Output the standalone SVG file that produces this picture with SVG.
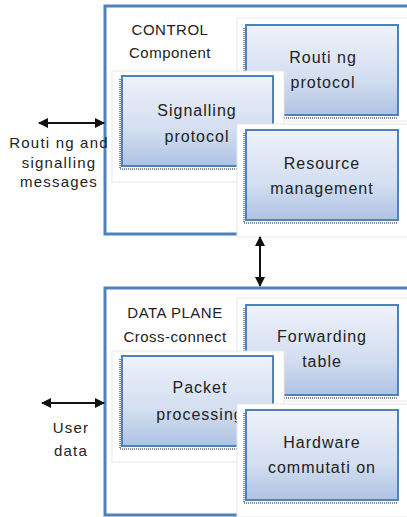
<svg xmlns="http://www.w3.org/2000/svg" width="407" height="517" viewBox="0 0 407 517">
<defs>
<linearGradient id="g" x1="0" y1="0" x2="0" y2="1">
<stop offset="0" stop-color="#eef2fa"/>
<stop offset="0.6" stop-color="#d3def0"/>
<stop offset="1" stop-color="#aec3e3"/>
</linearGradient>
<marker id="ah" viewBox="0 0 10 10" refX="9" refY="5" markerWidth="5" markerHeight="5" orient="auto-start-reverse" markerUnits="strokeWidth">
<path d="M0,0 L10,5 L0,10 z" fill="#111"/>
</marker>
<style>
.outer{fill:#fff;stroke:#4f81bd;stroke-width:3}
.panel{fill:#fff;stroke:#e8e8e8;stroke-width:1}
.box{fill:url(#g);stroke:#4f81bd;stroke-width:2}
.sh{stroke:#888;stroke-width:2;stroke-dasharray:1 1;fill:none}
.t{font-family:"Liberation Sans",Arial,sans-serif;font-size:16px;letter-spacing:1px;fill:#222;text-anchor:middle}
.h{font-family:"Liberation Sans",Arial,sans-serif;font-size:15px;letter-spacing:0.5px;fill:#222;text-anchor:middle}
.l{font-family:"Liberation Sans",Arial,sans-serif;font-size:15px;letter-spacing:1.2px;fill:#222;text-anchor:middle}
.c{stroke:#111;stroke-width:2;fill:none;marker-start:url(#ah);marker-end:url(#ah)}
</style>
</defs>
<rect width="407" height="517" fill="#fff"/>
<g id="control">
<rect class="outer" x="105" y="6" width="310" height="228"/>
<text class="h" x="170" y="35">CONTROL</text>
<text class="h" x="170" y="58">Component</text>
</g>
<g id="routing">
<rect class="panel" x="237" y="18" width="175" height="103"/>
<path class="sh" d="M244,28 V118 H398"/>
<rect class="box" x="246" y="25" width="152" height="90"/>
<text class="t" x="323" y="63">Routi ng</text>
<text class="t" x="323" y="88">protocol</text>
</g>
<g id="signalling">
<rect class="panel" x="112" y="71" width="172" height="111"/>
<path class="sh" d="M120,79 V169 H273"/>
<rect class="box" x="122" y="76" width="151" height="90"/>
<text class="t" x="197" y="116">Signalling</text>
<text class="t" x="197" y="142">protocol</text>
</g>
<g id="resource">
<rect class="panel" x="237" y="124" width="175" height="113"/>
<path class="sh" d="M244,133 V223 H398"/>
<rect class="box" x="246" y="130" width="152" height="90"/>
<text class="t" x="322" y="169">Resource</text>
<text class="t" x="322" y="194">management</text>
</g>
<g id="data">
<rect class="outer" x="105" y="288" width="310" height="227"/>
<text class="h" x="175" y="318">DATA PLANE</text>
<text class="h" x="175" y="342">Cross-connect</text>
</g>
<g id="forwarding">
<rect class="panel" x="237" y="298" width="175" height="103"/>
<path class="sh" d="M244,308 V398 H398"/>
<rect class="box" x="246" y="305" width="152" height="90"/>
<text class="t" x="322" y="342">Forwarding</text>
<text class="t" x="322" y="367">table</text>
</g>
<g id="packet">
<rect class="panel" x="112" y="351" width="172" height="111"/>
<path class="sh" d="M120,359 V449 H273"/>
<rect class="box" x="122" y="356" width="151" height="90"/>
<text class="t" x="200" y="393">Packet</text>
<text class="t" x="200" y="420">processing</text>
</g>
<g id="hardware">
<rect class="panel" x="237" y="404" width="175" height="113"/>
<path class="sh" d="M244,413 V503 H398"/>
<rect class="box" x="246" y="410" width="152" height="90"/>
<text class="t" x="322" y="448">Hardware</text>
<text class="t" x="322" y="473">commutati on</text>
</g>
<g id="labels">
<text class="l" x="59" y="148">Routi ng and</text>
<text class="l" x="59" y="168">signalling</text>
<text class="l" x="59" y="187">messages</text>
<text class="l" x="71" y="433">User</text>
<text class="l" x="71" y="456">data</text>
</g>
<g id="connectors">
<line class="c" x1="39" y1="123" x2="104" y2="123"/>
<line class="c" x1="42" y1="403" x2="104" y2="403"/>
<line class="c" x1="260" y1="237" x2="260" y2="286"/>
</g>
</svg>
